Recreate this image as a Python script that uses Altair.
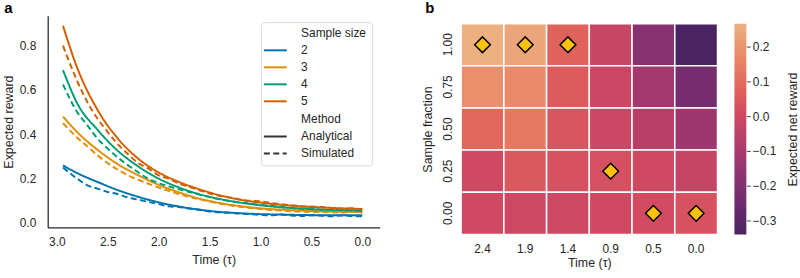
import altair as alt
import pandas as pd

FONT = "Liberation Sans"
INK = "#262626"

# ---------------- Panel a: expected reward vs. time ----------------
TAU_ANALYTICAL = [2.94, 2.8, 2.6, 2.4, 2.2, 2.0, 1.8, 1.6, 1.4, 1.2, 1.0, 0.8, 0.6, 0.4, 0.2, 0.0]
ANALYTICAL = {
    "2": [0.26, 0.225, 0.185, 0.148, 0.118, 0.093, 0.074, 0.06, 0.05, 0.044, 0.04, 0.038, 0.036, 0.035, 0.035, 0.035],
    "3": [0.48, 0.41, 0.33, 0.265, 0.215, 0.172, 0.138, 0.11, 0.09, 0.076, 0.066, 0.06, 0.056, 0.053, 0.051, 0.05],
    "4": [0.69, 0.54, 0.42, 0.325, 0.255, 0.2, 0.16, 0.13, 0.108, 0.092, 0.08, 0.071, 0.065, 0.06, 0.057, 0.055],
    "5": [0.89, 0.70, 0.51, 0.38, 0.29, 0.228, 0.185, 0.152, 0.125, 0.105, 0.092, 0.082, 0.075, 0.07, 0.066, 0.063],
}

TAU_SIMULATED = [2.94, 2.8, 2.7, 2.6, 2.5, 2.4, 2.3, 2.2, 2.1, 2.0, 1.9, 1.8, 1.7, 1.6, 1.5,
                 1.4, 1.3, 1.2, 1.1, 1.0, 0.9, 0.8, 0.7, 0.6, 0.5, 0.4, 0.3, 0.2, 0.1, 0.0]
SIMULATED = {
    "2": [0.25, 0.2, 0.17, 0.155, 0.14, 0.13, 0.115, 0.105, 0.095, 0.085, 0.075, 0.072, 0.065, 0.06, 0.052,
          0.048, 0.046, 0.042, 0.04, 0.037, 0.035, 0.038, 0.034, 0.032, 0.035, 0.033, 0.03, 0.034, 0.031, 0.03],
    "3": [0.45, 0.385, 0.345, 0.305, 0.27, 0.24, 0.215, 0.195, 0.177, 0.16, 0.145, 0.13, 0.118, 0.107, 0.097,
          0.088, 0.08, 0.073, 0.068, 0.063, 0.059, 0.056, 0.053, 0.051, 0.049, 0.05, 0.048, 0.047, 0.05, 0.047],
    "4": [0.625, 0.50, 0.44, 0.38, 0.335, 0.295, 0.26, 0.228, 0.2, 0.18, 0.165, 0.152, 0.14, 0.128, 0.117,
          0.107, 0.099, 0.092, 0.088, 0.081, 0.078, 0.072, 0.068, 0.064, 0.066, 0.06, 0.058, 0.06, 0.056, 0.055],
    "5": [0.80, 0.64, 0.545, 0.47, 0.41, 0.355, 0.31, 0.27, 0.245, 0.215, 0.2, 0.178, 0.163, 0.148, 0.133,
          0.122, 0.115, 0.106, 0.1, 0.098, 0.09, 0.085, 0.08, 0.076, 0.074, 0.072, 0.068, 0.064, 0.066, 0.062],
}

SIZE_COLORS = {"2": "#0173b2", "3": "#de8f05", "4": "#029e73", "5": "#d55e00"}
SOLID = [1, 0]
DASHED = [6, 3.5]
HIDDEN = [0, 1]

# Two legend blocks, each opened by a subtitle row (seaborn style).
SIZE_ENTRIES = ["Sample size", "2", "3", "4", "5"]
SIZE_ENTRY_COLORS = ["rgba(0,0,0,0)"] + [SIZE_COLORS[s] for s in SIZE_ENTRIES[1:]]
METHOD_ENTRIES = ["Method", "Analytical", "Simulated"]
METHOD_ENTRY_DASHES = [HIDDEN, SOLID, DASHED]

rows = []
for method, taus, table in (("Analytical", TAU_ANALYTICAL, ANALYTICAL),
                            ("Simulated", TAU_SIMULATED, SIMULATED)):
    for size, vals in table.items():
        for t, v in zip(taus, vals):
            rows.append({"tau": t, "reward": v, "size": size, "method": method})
df_a = pd.DataFrame(rows)

LEGEND_X = 222
ROW_PAD = 4.1
common_legend = dict(
    title=None, orient="none", padding=0,
    symbolType="M-2,0H2", symbolSize=132, symbolStrokeWidth=2,
    labelFontSize=12, labelFont=FONT, labelColor=INK, labelOffset=19,
    rowPadding=ROW_PAD,
)

lines = alt.Chart(df_a).mark_line(strokeWidth=2, interpolate="monotone").encode(
    x=alt.X("tau:Q",
            scale=alt.Scale(domain=[-0.17, 3.09], reverse=True, nice=False, zero=False),
            axis=alt.Axis(title="Time (τ)", values=[0, 0.5, 1.0, 1.5, 2.0, 2.5, 3.0], format=".1f",
                          grid=False, ticks=False, tickSize=0, labelPadding=9, titlePadding=6)),
    y=alt.Y("reward:Q",
            scale=alt.Scale(domain=[-0.02, 0.935], nice=False, zero=False),
            axis=alt.Axis(title="Expected reward", values=[0, 0.2, 0.4, 0.6, 0.8], format=".1f",
                          grid=False, ticks=False, tickSize=0, labelPadding=12, titlePadding=4)),
    color=alt.Color("size:N", scale=alt.Scale(domain=SIZE_ENTRIES, range=SIZE_ENTRY_COLORS),
                    legend=alt.Legend(legendX=LEGEND_X, legendY=10.7, **common_legend)),
    strokeDash=alt.StrokeDash("method:N", scale=alt.Scale(domain=METHOD_ENTRIES, range=METHOD_ENTRY_DASHES),
                              legend=alt.Legend(legendX=LEGEND_X, legendY=97.4,
                                                symbolStrokeColor="#333333", **common_legend)),
    detail="method:N",
)

# legend frame, drawn beneath the two legend blocks
frame = alt.Chart(pd.DataFrame({"frame": [0]})).mark_rect(
    fill="white", stroke="#d9d9d9", strokeWidth=1, cornerRadius=3
).encode(x=alt.value(215), x2=alt.value(327), y=alt.value(7), y2=alt.value(151))

PANEL_TITLE = dict(anchor="start", fontSize=15, fontWeight="bold", offset=0,
                   font=FONT, color="black")

chart_a = alt.layer(lines, frame).properties(
    width=334, height=213,
    title=alt.TitleParams("a", dx=2, **PANEL_TITLE),
)

# ---------------- Panel b: expected net reward heatmap ----------------
TIME_LABELS = ["2.4", "1.9", "1.4", "0.9", "0.5", "0.0"]
FRACTION_LABELS = ["1.00", "0.75", "0.50", "0.25", "0.00"]
NET_REWARD = [
    [0.267, 0.240, 0.075, -0.020, -0.190, -0.341],
    [0.185, 0.175, 0.055, -0.010, -0.120, -0.230],
    [0.090, 0.130, 0.040, -0.010, -0.060, -0.130],
    [0.000, 0.050, 0.030, 0.025, 0.000, -0.025],
    [0.000, -0.005, -0.005, 0.000, 0.010, 0.030],
]

# flare palette, dark (low) to light (high)
FLARE = ["#4b2362", "#6c2b6d", "#8f3371", "#b13c6c", "#d14a61", "#e3685c", "#e98d6b", "#edb081"]

df_b = pd.DataFrame([
    {"fraction": f, "time": t, "reward": NET_REWARD[i][j]}
    for i, f in enumerate(FRACTION_LABELS)
    for j, t in enumerate(TIME_LABELS)
])
vmin = float(df_b["reward"].min())
vmax = float(df_b["reward"].max())

# the heat map sits a little lower than panel a: its view is 220 px tall, cells use the lower 212 px
B_H = 220
B_TOP = 8

x_b = alt.X("time:O", sort=TIME_LABELS,
            scale=alt.Scale(paddingInner=0, paddingOuter=0),
            axis=alt.Axis(title="Time (τ)", labelAngle=0, ticks=False, tickSize=0, domain=False,
                          labelPadding=9, titlePadding=2))
y_b = alt.Y("fraction:O", sort=FRACTION_LABELS,
            scale=alt.Scale(range=[B_TOP, B_H], paddingInner=0, paddingOuter=0),
            axis=alt.Axis(title="Sample fraction", labelAngle=270, labelAlign="center",
                          labelBaseline="bottom", ticks=False, tickSize=0, domain=False,
                          labelPadding=7, titlePadding=7))

base_b = alt.Chart(df_b)
cells = base_b.mark_rect(stroke="white", strokeWidth=1.5).encode(
    x=x_b, y=y_b,
    color=alt.Color("reward:Q",
                    scale=alt.Scale(domain=[vmin, vmax], range=FLARE, interpolate="rgb"),
                    legend=None),
)
# diamond on the best sample fraction in each time column
best = base_b.transform_joinaggregate(
    col_max="max(reward)", groupby=["time"]
).transform_filter(
    "datum.reward == datum.col_max"
).mark_point(shape="diamond", size=250, filled=True, fill="#fec20c", stroke="black",
             strokeWidth=1.5, opacity=1).encode(x=x_b, y=y_b)

heatmap = alt.layer(cells, best).properties(
    width=258, height=B_H,
    title=alt.TitleParams("b", dx=4, **PANEL_TITLE),
)

# colour bar
cbar = alt.Chart(pd.DataFrame({"lo": [vmin], "hi": [vmax]})).mark_rect(
    fill=alt.LinearGradient(
        gradient="linear", x1=0, x2=0, y1=1, y2=0,
        stops=[alt.GradientStop(color=c, offset=i / (len(FLARE) - 1)) for i, c in enumerate(FLARE)],
    )
).encode(
    y=alt.Y("lo:Q", scale=alt.Scale(domain=[vmin, vmax], range=[B_H, B_TOP], nice=False, zero=False),
            axis=alt.Axis(orient="right", title="Expected net reward", values=[-0.3, -0.2, -0.1, 0.0, 0.1, 0.2],
                          format=".1f", grid=False, domain=False, ticks=True, tickSize=4,
                          tickColor="#444444", labelPadding=2, titleAngle=270, titleBaseline="top",
                          titlePadding=11)),
    y2="hi:Q",
).properties(width=12, height=B_H)

chart = alt.hconcat(
    chart_a,
    alt.hconcat(heatmap, cbar, spacing=16),
    spacing=42,
).properties(
    padding={"left": 2, "top": 0, "right": 0, "bottom": 0},
).configure(
    font=FONT,
).configure_view(
    stroke=None,
).configure_axis(
    labelFont=FONT, titleFont=FONT, labelFontSize=12, titleFontSize=12.5,
    labelColor=INK, titleColor=INK, titleFontWeight="normal",
    domainColor=INK, domainWidth=1.25,
)

chart.save("out.html", embed_options={"renderer": "svg", "actions": False})
